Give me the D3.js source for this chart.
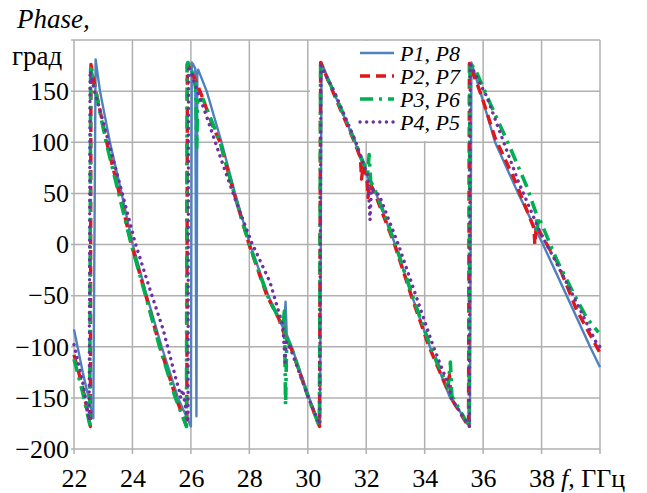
<!DOCTYPE html>
<html>
<head>
<meta charset="utf-8">
<script src="https://cdn.jsdelivr.net/npm/d3@7"></script>
<style>
  html, body { margin: 0; padding: 0; background: #fff; }
  svg { display: block; }
  svg text { font-family: "Liberation Serif", "Times New Roman", Times, "DejaVu Serif", serif; fill: #000; }
</style>
</head>
<body>
<svg id="chart" width="647" height="493"></svg>
<script>
// ---------- data ----------
const xGridTicks = [22, 24, 26, 28, 30, 32, 34, 36, 38, 40];
const xTickLabels = [22, 24, 26, 28, 30, 32, 34, 36, 38];
const yGridTicks = [-200, -150, -100, -50, 0, 50, 100, 150, 200];
const yTickLabels = [150, 100, 50, 0, -50, -100, -150, -200];
const seriesNames = ["P1, P8", "P2, P7", "P3, P6", "P4, P5"];

const p18Freq = [22.0, 22.3, 22.66, 22.74, 22.89, 23.23, 23.63, 24.01, 24.49, 25.0, 25.56, 26.0, 26.03, 26.08, 26.15, 26.19, 26.22, 26.25, 26.54, 27.05, 27.51, 28.02, 28.65, 29.0, 29.18, 29.24, 29.28, 29.45, 30.05, 30.42, 30.47, 30.87, 31.62, 31.79, 32.03, 32.36, 32.99, 33.56, 34.18, 34.87, 35.25, 35.55, 35.6, 36.0, 36.41, 37.2, 38.05, 38.86, 39.66, 40.0];
const p18Phase = [-83, -125, -170, 181, 150, 100, 50, 0, -50, -100, -150, -178, 178, 176, 172, -168, 168, 171, 150, 100, 50, 0, -50, -72, -83, -56, -88, -100, -150, -178, 178, 150, 100, 85, 67, 48, 0, -50, -100, -150, -165, -178, 178, 140, 100, 50, 0, -50, -100, -120];

const p27Freq = [22.0, 22.3, 22.56, 22.58, 22.75, 23.12, 23.55, 23.97, 24.46, 24.94, 25.49, 25.86, 25.88, 26.2, 26.42, 26.76, 27.0, 27.48, 27.99, 28.6, 29.0, 29.2, 29.45, 30.05, 30.4, 30.44, 30.85, 31.6, 31.8, 31.84, 31.9, 32.02, 32.06, 32.12, 32.35, 32.97, 33.54, 34.15, 34.75, 34.85, 34.9, 35.5, 35.53, 35.95, 36.4, 37.1, 37.74, 37.77, 37.82, 38.55, 39.2, 40.0];
const p27Phase = [-108, -140, -178, 176, 150, 100, 50, 0, -50, -100, -150, -178, 177, 158, 142, 115, 100, 50, 0, -50, -72, -88, -103, -152, -178, 178, 150, 100, 85, 64, 78, 66, 46, 60, 46, 0, -50, -100, -140, -128, -150, -178, 177, 145, 105, 62, 16, 0, 18, -18, -64, -106];

const p36Freq = [22.0, 22.3, 22.54, 22.57, 22.74, 23.1, 23.53, 23.96, 24.45, 24.93, 25.47, 25.85, 25.87, 25.9, 26.1, 26.17, 26.2, 26.23, 26.42, 27.0, 27.48, 28.0, 28.62, 29.0, 29.15, 29.2, 29.24, 29.28, 29.45, 30.05, 30.4, 30.44, 30.88, 31.63, 31.8, 32.05, 32.1, 32.15, 32.38, 33.0, 33.58, 34.2, 34.8, 34.88, 34.93, 35.52, 35.55, 35.75, 36.24, 36.92, 37.49, 37.82, 37.85, 37.9, 38.52, 39.08, 39.55, 39.95];
const p36Phase = [-112, -145, -176, 172, 150, 100, 50, 0, -50, -100, -150, -178, 175, 178, 165, 150, 95, 140, 142, 100, 50, 0, -50, -72, -80, -65, -157, -92, -102, -152, -178, 176, 150, 100, 87, 70, 88, 62, 48, 0, -50, -100, -140, -115, -148, -178, 178, 170, 138, 95, 57, 30, 14, 27, -15, -47, -72, -86];

const p45Freq = [22.0, 22.3, 22.52, 22.55, 22.7, 22.95, 23.23, 23.68, 24.09, 24.6, 25.05, 25.52, 25.58, 25.65, 25.72, 25.9, 25.92, 26.1, 26.54, 27.05, 27.57, 28.08, 28.71, 29.15, 29.22, 29.27, 29.45, 30.05, 30.41, 30.45, 30.9, 31.65, 31.85, 32.05, 32.13, 32.18, 32.45, 33.1, 33.7, 34.3, 34.85, 34.9, 35.53, 35.56, 36.12, 36.6, 37.2, 37.95, 38.4, 39.08, 39.89, 40.0];
const p45Phase = [-98, -135, -172, 170, 150, 125, 95, 47, 2, -44, -83, -135, -140, -150, -142, -174, 175, 160, 125, 82, 40, 2, -37, -80, -115, -95, -105, -152, -176, 175, 150, 100, 83, 68, 24, 55, 48, 0, -50, -100, -140, -150, -178, 176, 145, 108, 62, 12, -12, -50, -97, -100];

// ---------- layout ----------
const svg = d3.select("#chart");
const x = d3.scaleLinear().domain([22, 40]).range([74, 600]);
const y = d3.scaleLinear().domain([-200, 200]).range([449, 40]);
const gridColor = "#b0b0b0";
const serif = '"Liberation Serif", "Times New Roman", Times, "DejaVu Serif", serif';

// grid
svg.append("g").selectAll("line").data(xGridTicks).join("line")
  .attr("x1", d => x(d)).attr("x2", d => x(d))
  .attr("y1", y(200)).attr("y2", y(-200) + 5)
  .attr("stroke", gridColor).attr("stroke-width", 1.5);
svg.append("g").selectAll("line").data(yGridTicks).join("line")
  .attr("x1", x(22) - 3).attr("x2", x(40))
  .attr("y1", d => y(d)).attr("y2", d => y(d))
  .attr("stroke", gridColor).attr("stroke-width", 1.5);

// legend background (covers grid)
svg.append("rect").attr("x", 310).attr("y", 41).attr("width", 172).attr("height", 100).attr("fill", "#fff");

// axes labels
const xAxis = d3.axisBottom(x).tickValues(xTickLabels).tickSize(0).tickPadding(20);
const gx = svg.append("g").attr("transform", `translate(0,${y(-200)})`).call(xAxis);
gx.attr("font-family", serif);
gx.select(".domain").remove();
gx.selectAll("text").attr("font-size", 26).attr("fill", "#000");

const yAxis = d3.axisLeft(y).tickValues(yTickLabels).tickSize(0).tickPadding(5);
const gy = svg.append("g").attr("transform", `translate(${x(22)},0)`).call(yAxis);
gy.attr("font-family", serif);
gy.select(".domain").remove();
gy.selectAll("text").attr("font-size", 26).attr("fill", "#000");

svg.append("text").attr("x", 17).attr("y", 28).attr("font-size", 27).attr("font-style", "italic").text("Phase,");
svg.append("text").attr("x", 12).attr("y", 65).attr("font-size", 27).text("град");
const fl = svg.append("text").attr("x", 561).attr("y", 487).attr("font-size", 26);
fl.append("tspan").attr("font-style", "italic").text("f");
fl.append("tspan").text(", ГГц");

// series
const styles = [
  { color: "#4f81bd", width: 2.4, dash: null, cap: "butt" },
  { color: "#e0161b", width: 3.4, dash: "10,6", cap: "butt" },
  { color: "#00b050", width: 3.6, dash: "13,6,3,6", cap: "butt" },
  { color: "#7030a0", width: 3.4, dash: "0.1,6.5", cap: "round" }
];
const seriesData = [
  [p18Freq, p18Phase], [p27Freq, p27Phase], [p36Freq, p36Phase], [p45Freq, p45Phase]
];
const line = d3.line().x(d => x(d[0])).y(d => y(d[1]));
seriesData.forEach((s, i) => {
  const pts = s[0].map((f, k) => [f, s[1][k]]);
  svg.append("path").datum(pts)
    .attr("d", line)
    .attr("fill", "none")
    .attr("stroke", styles[i].color)
    .attr("stroke-width", styles[i].width)
    .attr("stroke-dasharray", styles[i].dash)
    .attr("stroke-linecap", styles[i].cap)
    .attr("stroke-linejoin", "round");
});

// legend
const rowY = [53, 76, 99, 122];
seriesNames.forEach((name, i) => {
  svg.append("line")
    .attr("x1", 360).attr("x2", 394)
    .attr("y1", rowY[i]).attr("y2", rowY[i])
    .attr("stroke", styles[i].color)
    .attr("stroke-width", styles[i].width)
    .attr("stroke-dasharray", styles[i].dash)
    .attr("stroke-linecap", styles[i].cap);
  svg.append("text").attr("x", 400).attr("y", rowY[i] + 8)
    .attr("font-size", 22).attr("font-style", "italic").text(name);
});
</script>
</body>
</html>
